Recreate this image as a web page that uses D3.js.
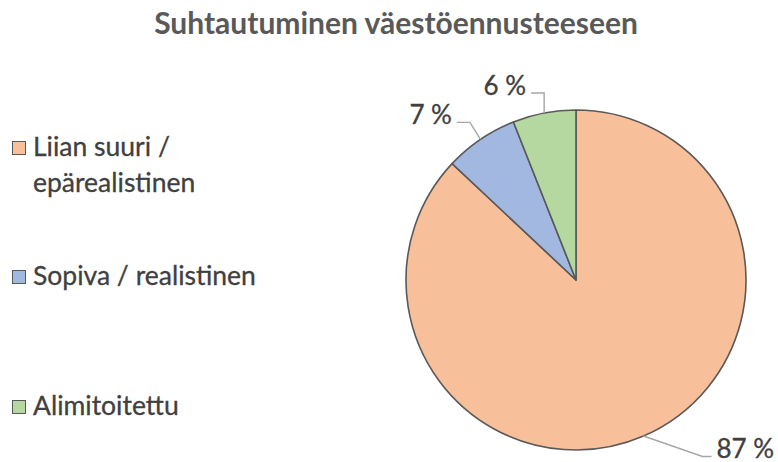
<!DOCTYPE html>
<html><head><meta charset="utf-8">
<script src="https://cdn.jsdelivr.net/npm/d3@7"></script>
<style>body{margin:0;background:#fff}svg{display:block}</style>
</head><body>
<svg id="c" width="778" height="462"></svg>
<script>
const categories = ["Liian suuri / epärealistinen", "Sopiva / realistinen", "Alimitoitettu"];
const legendLines = [["Liian suuri /", "epärealistinen"], ["Sopiva / realistinen"], ["Alimitoitettu"]];
const values = [87, 7, 6];
const labels = ["87 %", "7 %", "6 %"];
const colors = ["#F8C09A", "#A3B8E1", "#B5D8A0"];
const title = "Suhtautuminen väestöennusteeseen";

const svg = d3.select("#c");
const font = "Lato, 'Open Sans', sans-serif";
const cx = 576, cy = 280, r = 170;

svg.append("text").attr("x", 396).attr("y", 34).attr("text-anchor", "middle")
  .attr("font-family", font).attr("font-weight", "bold").attr("font-size", 30)
  .attr("fill", "#595959").text(title);

const pie = d3.pie().sort(null).value(d => d);
const arcs = pie(values);
const arc = d3.arc().innerRadius(0).outerRadius(r);
const g = svg.append("g").attr("transform", `translate(${cx},${cy})`);
g.selectAll("path").data(arcs).enter().append("path")
  .attr("d", arc).attr("fill", (d, i) => colors[i])
  .attr("stroke", "#595959").attr("stroke-width", 1.6).attr("stroke-linejoin", "round");

// leader lines & labels
const elbow = [[59, 20.5, 1, 9], [-10.5, -17, -1, 13], [0, -20, -1, 13]];
arcs.forEach((d, i) => {
  const a = (d.startAngle + d.endAngle) / 2;
  const x0 = r * Math.sin(a), y0 = -r * Math.cos(a);
  const [dx, dy, dir, len] = elbow[i];
  const x1 = x0 + dx, y1 = y0 + dy, x2 = x1 + dir * len;
  g.append("polyline").attr("points", `${x0},${y0} ${x1},${y1} ${x2},${y1}`)
    .attr("fill", "none").attr("stroke", "#A6A6A6").attr("stroke-width", 1.4);
  g.append("text").attr("x", x2 + dir * 5).attr("y", y1 + 1.5)
    .attr("text-anchor", dir > 0 ? "start" : "end")
    .attr("font-family", font).attr("font-size", 26).attr("fill", "#404040")
    .attr("stroke", "#404040").attr("stroke-width", 0.3)
    .text(labels[i]);
});

// legend
const legY = [156, 285, 415];
categories.forEach((c, i) => {
  const lg = svg.append("g");
  lg.append("rect").attr("x", 12.5).attr("y", legY[i] - 14.5).attr("width", 13).attr("height", 13)
    .attr("fill", colors[i]).attr("stroke", "#595959").attr("stroke-width", 1);
  legendLines[i].forEach((t, j) => {
    lg.append("text").attr("x", 33).attr("y", legY[i] + j * 36)
      .attr("font-family", font).attr("font-size", 26.5).attr("fill", "#404040")
      .attr("stroke", "#404040").attr("stroke-width", 0.3).text(t);
  });
});
</script>
</body></html>
